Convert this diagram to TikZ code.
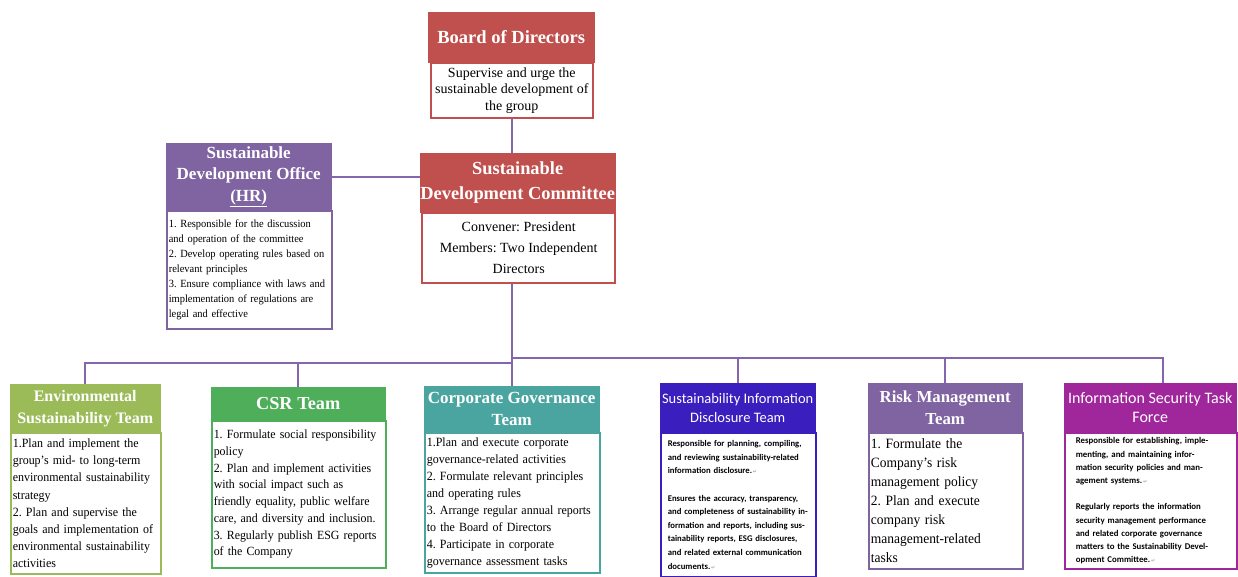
\documentclass[tikz,border=0pt]{standalone}
\usepackage{fontspec}
\setmainfont{Liberation Serif}
\newfontfamily\narrowserif{Liberation Serif}[FakeStretch=0.95]
\newfontfamily\calibri{Carlito}
\newfontfamily\dejavu{DejaVu Sans}
\usetikzlibrary{positioning}
\frenchspacing
\hyphenpenalty=10000

\definecolor{brdred}{HTML}{C0504D}
\definecolor{sdpurple}{HTML}{8064A2}
\definecolor{envgreen}{HTML}{9BBB59}
\definecolor{csrgreen}{HTML}{4FAE5A}
\definecolor{cgteal}{HTML}{4AA5A0}
\definecolor{sidblue}{HTML}{3A1EBE}
\definecolor{infomag}{HTML}{A0269B}
\definecolor{linkpurple}{HTML}{8466AE}

\newcommand\pmark{{\dejavu\color{black!35}\fontsize{5}{5}\selectfont\,↵}}

\begin{document}
\begin{tikzpicture}[x=1pt,y=-1pt,
  head/.style={draw=#1,fill=#1,text=white,anchor=north west,inner sep=0pt,align=center},
  body/.style={draw=#1,line width=1.6pt,fill=white,anchor=north west,inner sep=2pt,
               text=black},
  link/.style={linkpurple,line width=2.4pt}]
  \useasboundingbox (0,0) rectangle (1238,576);

  % top of the structure
  \node[head=brdred,minimum width=166pt,minimum height=50pt,
        font=\bfseries\fontsize{18.5}{20}\selectfont] (boardH) at (428,12) {Board of Directors};
  \node[body=brdred,minimum width=162pt,minimum height=55pt,align=center,
        font=\fontsize{14}{16.5}\selectfont] (boardB) at (430,62)
        {Supervise and urge the\\sustainable development of\\the group};

  \node[head=brdred,minimum width=195pt,minimum height=59pt,
        font=\bfseries\fontsize{18.4}{25}\selectfont] (commH) at (420,153)
        {Sustainable\\Development Committee};
  \node[body=brdred,line width=2.4pt,minimum width=193pt,minimum height=70pt,align=center,
        font=\fontsize{14}{21}\selectfont] (commB) at (421,212)
        {Convener: President\\Members: Two Independent\\Directors};

  \node[head=sdpurple,minimum width=165pt,minimum height=67pt,
        font=\bfseries\fontsize{17}{21.5}\selectfont] (officeH) at (166,143)
        {\rule{0pt}{8pt}Sustainable\\Development Office\\\underline{(HR)}};
  \node[body=sdpurple,text width=161pt,minimum height=118pt,align=left,
        font=\narrowserif\fontsize{11}{15}\selectfont] (officeB) at (166,210)
        {1. Responsible for the discussion\\and operation of the committee\\
         2. Develop operating rules based on\\relevant principles\\
         3. Ensure compliance with laws and\\implementation of regulations are\\
         legal and effective};

  % teams under the committee
  \node[head=envgreen,minimum width=150pt,minimum height=48pt,
        font=\bfseries\fontsize{16}{22}\selectfont] (envH) at (10,384)
        {Environmental\\Sustainability Team};
  \node[body=envgreen,text width=146pt,minimum height=141pt,align=left,
        font=\narrowserif\fontsize{12.6}{17.2}\selectfont] (envB) at (10,432)
        {1.Plan and implement the\\group’s mid- to long-term\\environmental sustainability\\
         strategy\\2. Plan and supervise the\\goals and implementation of\\
         environmental sustainability\\activities};

  \node[head=csrgreen,minimum width=174pt,minimum height=33pt,
        font=\bfseries\fontsize{18.3}{22}\selectfont] (csrH) at (211,387) {CSR Team};
  \node[body=csrgreen,text width=170pt,minimum height=147pt,align=left,
        font=\narrowserif\fontsize{12.5}{16.7}\selectfont] (csrB) at (211,420)
        {1. Formulate social responsibility\\policy\\
         2. Plan and implement activities\\with social impact such as\\
         friendly equality, public welfare\\care, and diversity and inclusion.\\
         3. Regularly publish ESG reports\\of the Company};

  \node[head=cgteal,minimum width=175pt,minimum height=46pt,
        font=\bfseries\fontsize{17}{22}\selectfont] (cgH) at (424,386)
        {Corporate Governance\\Team};
  \node[body=cgteal,text width=171pt,minimum height=140pt,align=left,
        font=\narrowserif\fontsize{12.6}{17}\selectfont] (cgB) at (424,432)
        {1.Plan and execute corporate\\governance-related activities\\
         2. Formulate relevant principles\\and operating rules\\
         3. Arrange regular annual reports\\to the Board of Directors\\
         4. Participate in corporate\\governance assessment tasks};

  \node[head=sidblue,minimum width=155pt,minimum height=49pt,
        font=\calibri\fontsize{14.5}{19}\selectfont] (sidH) at (660,383)
        {Sustainability Information\\Disclosure Team};
  \node[body=sidblue,inner xsep=7pt,text width=141pt,minimum height=144pt,align=left,
        font=\calibri\bfseries\fontsize{8.7}{13.6}\selectfont] (sidB) at (660,432)
        {Responsible for planning, compiling,\\and reviewing sustainability-related\\
         information disclosure.\pmark\\[13.6pt]
         Ensures the accuracy, transparency,\\and completeness of sustainability in-\\
         formation and reports, including sus-\\tainability reports, ESG disclosures,\\
         and related external communication\\documents.\pmark};

  \node[head=sdpurple,minimum width=154pt,minimum height=49pt,
        font=\bfseries\fontsize{16.8}{22}\selectfont] (riskH) at (868,383)
        {Risk Management\\Team};
  \node[body=sdpurple,text width=150pt,minimum height=136pt,align=left,
        font=\narrowserif\fontsize{14.2}{19}\selectfont] (riskB) at (868,432)
        {1. Formulate the\\Company’s risk\\management policy\\
         2. Plan and execute\\company risk\\management-related\\tasks};

  \node[head=infomag,minimum width=172pt,minimum height=49pt,
        font=\calibri\fontsize{16}{19}\selectfont] (infoH) at (1064,383)
        {Information Security Task\\Force};
  \node[body=infomag,inner xsep=11pt,text width=150pt,minimum height=136pt,align=left,
        font=\calibri\bfseries\fontsize{8.8}{13.2}\selectfont] (infoB) at (1064,432)
        {Responsible for establishing, imple-\\menting, and maintaining infor-\\
         mation security policies and man-\\agement systems.\pmark\\[13.2pt]
         Regularly reports the information\\security management performance\\
         and related corporate governance\\matters to the Sustainability Devel-\\
         opment Committee.\pmark};

  % connectors
  \coordinate (busL) at (512,363);
  \coordinate (busR) at (512,358);
  \draw[link] (boardB.south) -- (boardB.south |- commH.north);
  \draw[link] (officeH.east) -- (officeH.east -| commH.west);
  \draw[link] (busL |- commB.south) -- (busL);
  \draw[link] (busL) -| (envH.north);
  \draw[link] (busL) -| (csrH.north);
  \draw[link] (busL) -- (busL |- cgH.north);
  \draw[link] (busR) -| (sidH.north);
  \draw[link] (busR) -| (riskH.north);
  \draw[link] (busR) -| ([xshift=13pt]infoH.north);
\end{tikzpicture}
\end{document}
